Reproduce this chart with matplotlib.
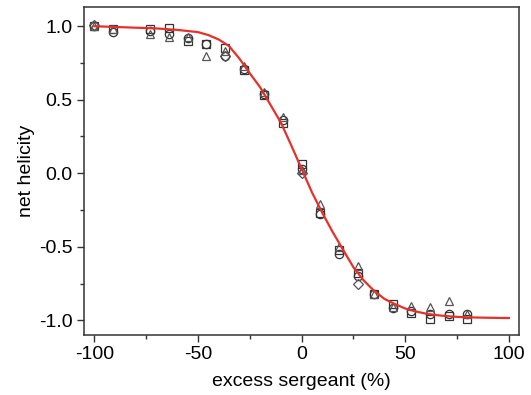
import matplotlib.pyplot as plt
import numpy as np

# excess sergeant (%) for the measured points
x_pts = [-100, -91, -73, -64, -55, -46, -37, -28, -18, -9,
         0, 9, 18, 27, 35, 44, 53, 62, 71, 80]
sq = [1.00, 0.98, 0.98, 0.99, 0.90, 0.88, 0.85, 0.70, 0.53, 0.34,
      0.06, -0.27, -0.52, -0.68, -0.82, -0.89, -0.95, -0.99, -0.97, -0.99]
circ = [1.00, 0.96, 0.97, 0.95, 0.92, 0.88, 0.80, 0.71, 0.54, 0.36,
        0.03, -0.28, -0.55, -0.70, -0.82, -0.92, -0.94, -0.96, -0.96, -0.96]
tri = [1.00, 0.98, 0.95, 0.93, 0.93, 0.80, 0.83, 0.73, 0.55, 0.38,
       0.02, -0.21, -0.50, -0.63, -0.82, -0.91, -0.90, -0.91, -0.87, -0.96]
diam_x = [-100, -37, 0, 27]
diam = [1.01, 0.80, 0.00, -0.75]

# fitted curve
x_fit = [-100, -90, -80, -70, -60, -50, -45, -40, -35, -30, -25, -20, -15,
         -10, -5, 0, 5, 10, 15, 20, 25, 30, 35, 40, 45, 50, 55, 60, 65,
         70, 75, 80, 90, 100]
y_fit = [1.0, 0.995, 0.99, 0.985, 0.975, 0.96, 0.94, 0.91, 0.865, 0.78,
         0.68, 0.585, 0.465, 0.345, 0.19, 0.03, -0.13, -0.27, -0.40, -0.52,
         -0.64, -0.73, -0.80, -0.855, -0.89, -0.92, -0.94, -0.955, -0.965,
         -0.972, -0.977, -0.98, -0.983, -0.985]

plt.rcParams['font.family'] = ['Liberation Sans', 'DejaVu Sans']

fig = plt.figure(figsize=(5.31, 3.95), dpi=100)
ax = fig.add_axes([0.158, 0.152, 0.820, 0.830])

mk = dict(linestyle='none', markerfacecolor='none', markersize=6,
          markeredgewidth=0.9, zorder=3)
ax.plot(x_pts, sq, marker='s', markeredgecolor='#333333', **mk)
ax.plot(x_pts, circ, marker='o', markeredgecolor='#333333', **mk)
ax.plot(x_pts, tri, marker='^', markeredgecolor='#555555', **mk)
ax.plot(diam_x, diam, marker='D', markeredgecolor='#555555',
        linestyle='none', markerfacecolor='none', markersize=5,
        markeredgewidth=0.9, zorder=3)
ax.plot(x_fit, y_fit, color='#e8302a', linewidth=1.6, zorder=4)

ax.set_xlim(-105, 105)
ax.set_ylim(-1.1, 1.13)
ax.set_xticks([-100, -50, 0, 50, 100])
ax.set_xticks([-75, -25, 25, 75], minor=True)
ax.set_yticks([-1.0, -0.5, 0.0, 0.5, 1.0])
ax.set_yticklabels(['-1.0', '-0.5', '0.0', '0.5', '1.0'])
ax.set_xticklabels(['-100', '-50', '0', '50', '100'])
ax.set_yticks([-0.75, -0.25, 0.25, 0.75], minor=True)
ax.tick_params(which='both', direction='out', top=False, right=False,
               labelsize=14, color='#333333')
ax.tick_params(which='major', length=5, width=1, pad=3)
ax.tick_params(which='minor', length=3, width=1)
for s in ax.spines.values():
    s.set_linewidth(1.1)
    s.set_color('#333333')

ax.set_xlabel('excess sergeant (%)', fontsize=14, labelpad=7)
ax.set_ylabel('net helicity', fontsize=14, labelpad=3)

fig.savefig('out.png', dpi=100)
